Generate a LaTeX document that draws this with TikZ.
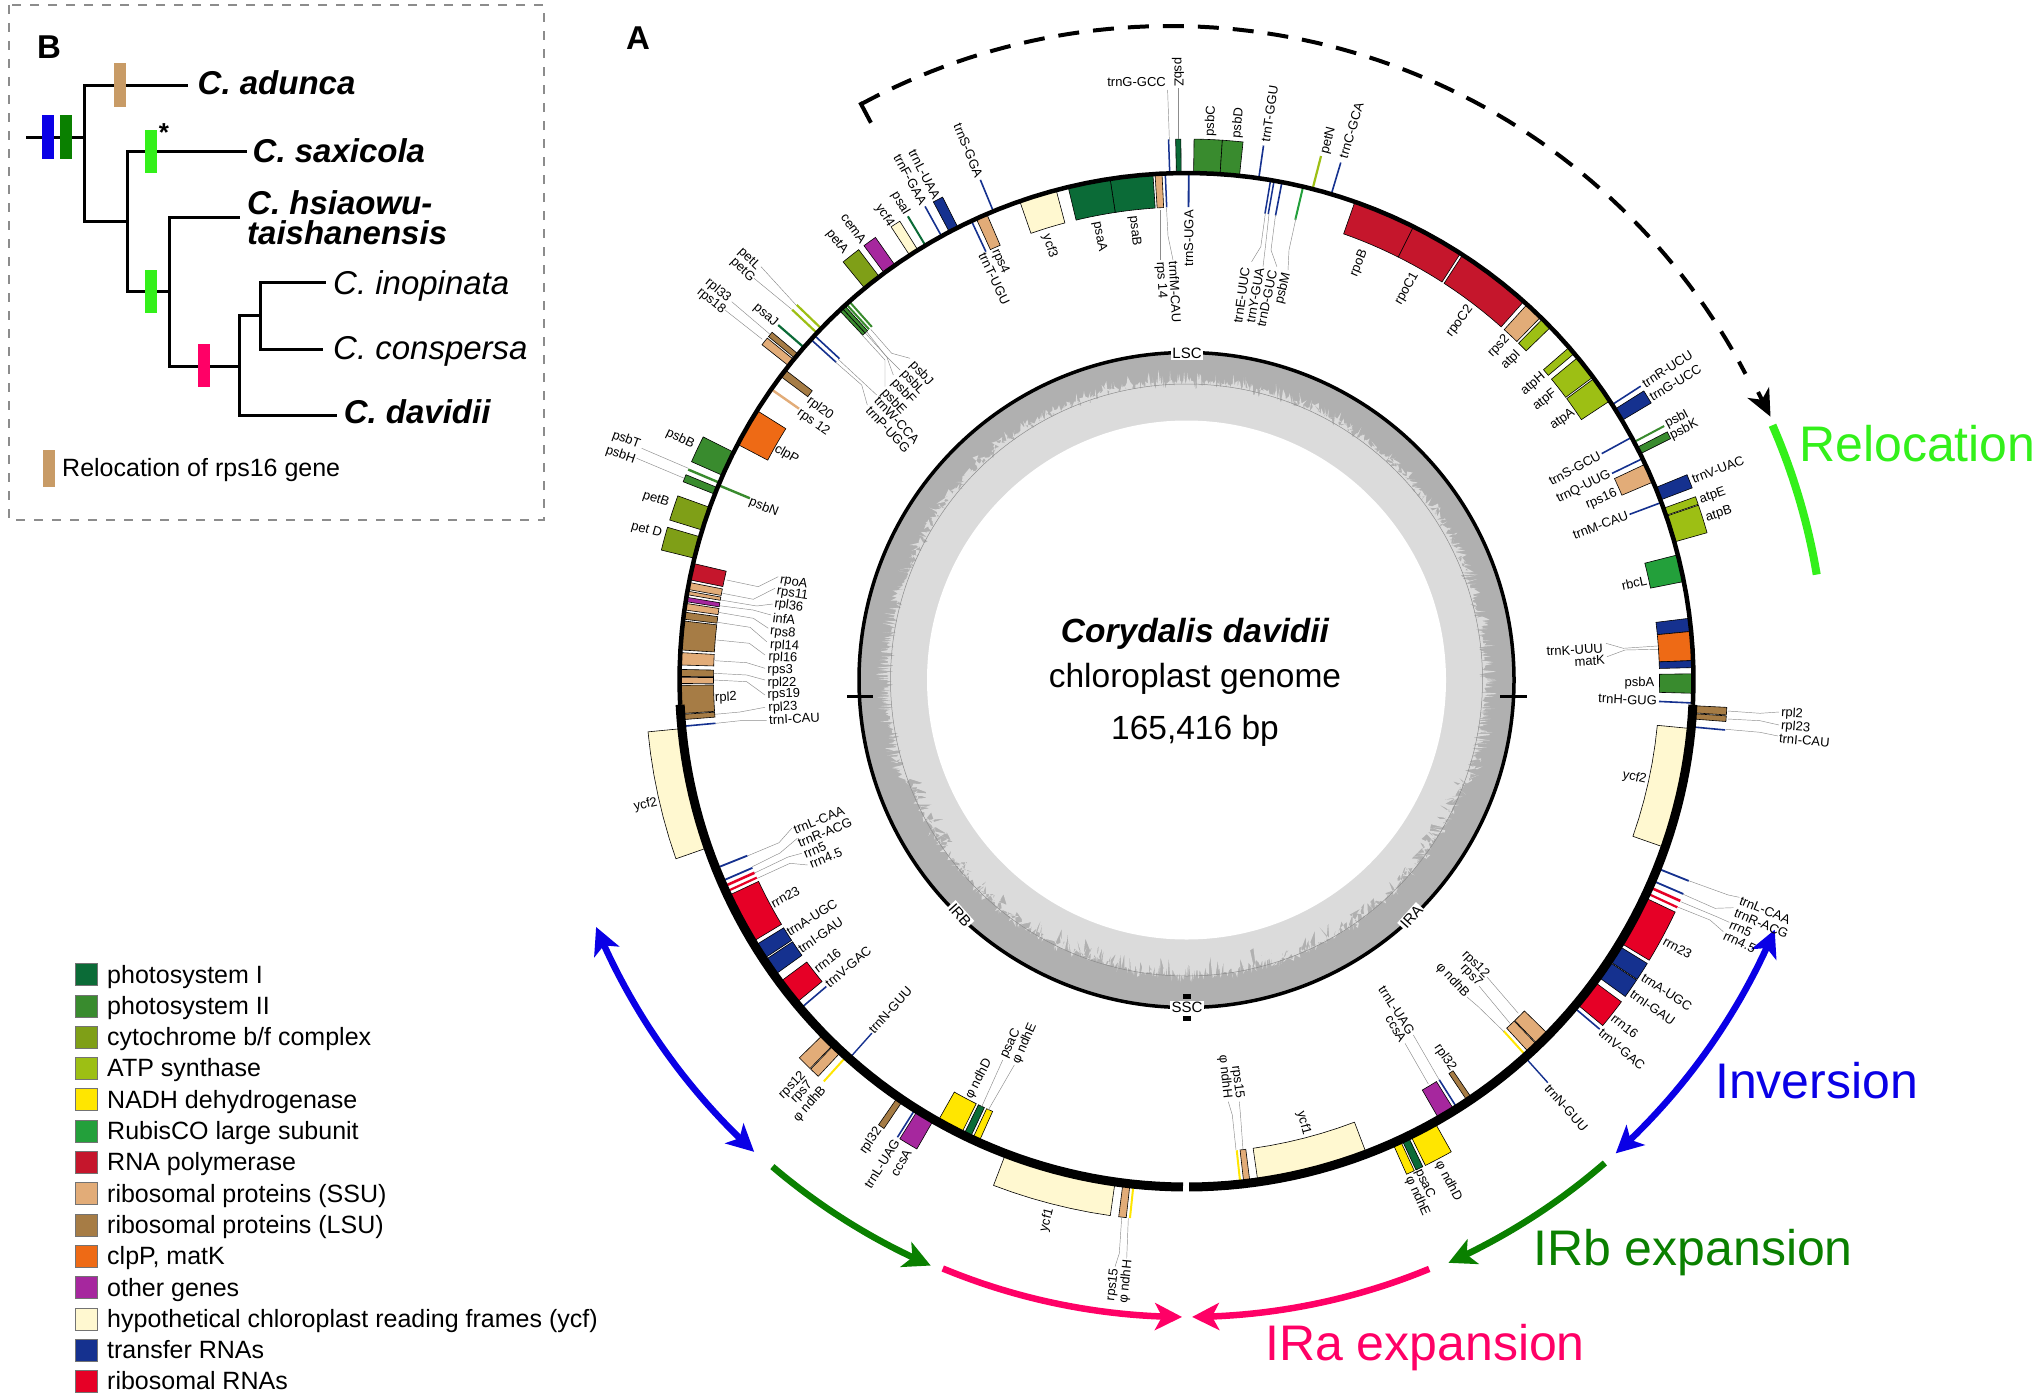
\documentclass[tikz,border=0pt]{standalone}
\usepackage{fontspec}
\setmainfont{Liberation Sans}
\usetikzlibrary{arrows.meta}
\definecolor{cPSI}{HTML}{0B6B37}
\definecolor{cPSII}{HTML}{398B2E}
\definecolor{cCYT}{HTML}{7F9F17}
\definecolor{cATP}{HTML}{9DBF14}
\definecolor{cNAD}{HTML}{FFE600}
\definecolor{cRUB}{HTML}{23A03B}
\definecolor{cRNA}{HTML}{C5162C}
\definecolor{cSSU}{HTML}{E2AC78}
\definecolor{cLSU}{HTML}{A67C45}
\definecolor{cCLP}{HTML}{EE6A15}
\definecolor{cOTH}{HTML}{A6279E}
\definecolor{cYCF}{HTML}{FFF8D0}
\definecolor{cTRN}{HTML}{15318F}
\definecolor{cRRN}{HTML}{E60026}
\definecolor{cRelo}{HTML}{33F01A}
\definecolor{cInv}{HTML}{0A00E6}
\definecolor{cIRb}{HTML}{0A8000}
\definecolor{cIRa}{HTML}{FF0066}
\definecolor{cTan}{HTML}{C89B66}
\tikzset{
  gene/.style={draw=black,line width=.6pt},
  glab/.style={inner sep=0pt,font=\fontsize{13}{13}\selectfont},
  leader/.style={draw=black!45,line width=.45pt},
  branch/.style={line width=3pt,line cap=rect},
  species/.style={inner sep=0pt,anchor=base west,font=\fontsize{33}{33}\selectfont\bfseries\itshape},
  species plain/.style={inner sep=0pt,anchor=base west,font=\fontsize{33}{33}\selectfont\itshape},
  legtext/.style={inner sep=0pt,anchor=base west,font=\fontsize{25}{25}\selectfont},
  bigword/.style={inner sep=0pt,anchor=base west,font=\fontsize{50}{50}\selectfont},
  centre/.style={inner sep=0pt,anchor=base,font=\fontsize{33.5}{33.5}\selectfont},
  regionlab/.style={fill=white,inner sep=1.5pt,font=\fontsize{15}{15}\selectfont},
  arcline/.style={line width=6.5pt},
  bigtip/.style={-{Stealth[length=27pt,width=27pt,inset=7pt]}},
  bothtip/.style={{Stealth[length=27pt,width=27pt,inset=7pt]}-{Stealth[length=27pt,width=27pt,inset=7pt]}}
}
\newcommand\GeneBox[5]{\filldraw[gene,fill=#5] plot[domain=#1:#2,samples=7] ({\x-90}:#4) -- plot[domain=#2:#1,samples=7] ({\x-90}:#3) -- cycle;}
\newcommand\GeneBar[5]{\draw[#4,line width=#5pt] ({#1-90}:#2) -- ({#1-90}:#3);}
\newcommand\LabOut[3]{\pgfmathtruncatemacro\myside{#1<180?1:0}\ifnum\myside=1 \node[glab,anchor=west,rotate=90-#1] at ({#1-90}:#2) {#3};\else \node[glab,anchor=east,rotate=270-#1] at ({#1-90}:#2) {#3};\fi}
\newcommand\LabIn[3]{\pgfmathtruncatemacro\myside{#1<180?1:0}\ifnum\myside=1 \node[glab,anchor=east,rotate=90-#1] at ({#1-90}:#2) {#3};\else \node[glab,anchor=west,rotate=270-#1] at ({#1-90}:#2) {#3};\fi}
\newcommand\LabAt[5]{\node[glab,anchor=#4,rotate=#3] at (#1,#2) {#5};}
\newcommand\LegRow[3]{\filldraw[fill=#2,draw=black!55,line width=.5pt] (75,#1-11) rectangle (97,#1+11); \node[legtext] at (107,#1+8.5) {#3};}
\begin{document}
\begin{tikzpicture}[x=1pt,y=-1pt]
\useasboundingbox (0,0) rectangle (2037,1397);
\fill[white] (0,0) rectangle (2037,1397);
% ---------- circular map, polar about the centre ----------
\begin{scope}[shift={(1186.5,680)}]
% GC content disc
\fill[black!31] (0,0) circle[radius=327];
\pgfmathsetseed{7}
\fill[black!14] plot[domain=0:360,samples=2401] ({\x-90}:{(\x>110 && \x<250) ? (295+8*rnd^3-20*rnd^4) : (299+13*rnd^4-8*rnd^3)}) -- cycle;
\draw[black!45,line width=.5pt] (0,0) circle[radius=296];
\fill[white] (0,0) circle[radius=259.5];
\draw[line width=3.5pt] (0,0) circle[radius=327.5];
% outer-side genes
\GeneBar{358.1}{507}{541}{cTRN}{1.5}
\GeneBox{358.85}{359.4}{507}{541}{cPSI}
\GeneBox{0.8}{3.8}{507}{541}{cPSII}
\GeneBox{3.8}{6}{507}{541}{cPSII}
\GeneBar{8.2}{507}{540}{cTRN}{1.6}
\GeneBar{14.4}{507}{541}{cATP}{2.2}
\GeneBar{16.6}{507}{540}{cTRN}{1.6}
\GeneBar{57.1}{507}{541}{cTRN}{1.6}
\GeneBox{57.7}{59.2}{507}{541}{cTRN}
\GeneBar{62}{507}{541}{cPSII}{2}
\GeneBox{62.7}{63.5}{507}{541}{cPSII}
\GeneBox{67.7}{69.2}{507}{541}{cTRN}
\GeneBox{70.2}{71.05}{507}{541}{cATP}
\GeneBox{71.15}{74.2}{507}{541}{cATP}
\GeneBox{92.9}{93.7}{507}{541}{cLSU}
\GeneBox{93.8}{94.4}{507}{541}{cLSU}
\GeneBar{95.3}{507}{541}{cTRN}{1.6}
\GeneBar{111.8}{507}{541}{cTRN}{1.8}
\GeneBar{113.3}{507}{541}{cTRN}{1.8}
\GeneBar{114.1}{507}{541}{cRRN}{2.6}
\GeneBar{114.85}{507}{541}{cRRN}{2.2}
\GeneBox{115.4}{121.2}{507}{541}{cRRN}
\GeneBox{121.6}{123.6}{507}{541}{cTRN}
\GeneBox{123.7}{125.8}{507}{541}{cTRN}
\GeneBox{126.5}{129.7}{507}{541}{cRRN}
\GeneBar{130.2}{507}{541}{cTRN}{1.6}
\GeneBar{138.1}{507}{541}{cTRN}{1.4}
\GeneBox{150.7}{153.8}{507}{541}{cNAD}
\GeneBox{154.1}{154.9}{507}{541}{cPSI}
\GeneBox{155.1}{156}{507}{541}{cNAD}
\GeneBox{188.1}{200.9}{507}{541}{cYCF}
\GeneBox{186.4}{187.2}{507}{541}{cSSU}
\GeneBar{186}{507}{541}{cNAD}{2}
\GeneBox{209.9}{212}{507}{541}{cOTH}
\GeneBar{212.3}{507}{541}{cTRN}{1.6}
\GeneBox{214}{214.7}{507}{541}{cLSU}
\GeneBar{222.1}{507}{541}{cNAD}{2}
\GeneBox{222.9}{224}{507}{541}{cSSU}
\GeneBox{224.1}{225.7}{507}{541}{cSSU}
\GeneBox{250.7}{264.5}{507}{541}{cYCF}
\GeneBox{283.9}{286.4}{507}{541}{cCYT}
\GeneBox{287.2}{289.9}{507}{541}{cCYT}
\GeneBox{291.5}{292.3}{507}{541}{cPSII}
\GeneBar{292.9}{507}{541}{cPSII}{2.4}
\GeneBox{293.8}{296.7}{507}{541}{cPSII}
\GeneBox{308.3}{309.2}{507}{541}{cSSU}
\GeneBox{309.4}{310}{507}{541}{cLSU}
\GeneBar{311}{507}{541}{cPSI}{2.2}
\GeneBar{313.2}{507}{541}{cATP}{2.2}
\GeneBar{313.9}{507}{541}{cATP}{2.2}
\GeneBox{320.6}{322.7}{507}{541}{cCYT}
\GeneBox{323.4}{324.9}{507}{541}{cOTH}
\GeneBox{326.9}{328}{507}{541}{cYCF}
\GeneBar{329}{507}{541}{cPSI}{2}
\GeneBar{331.1}{507}{541}{cTRN}{1.6}
\GeneBox{332.1}{333.2}{507}{541}{cTRN}
\GeneBar{337.6}{507}{541}{cTRN}{1.6}
% inner-side genes
\GeneBar{0.25}{473}{507}{cTRN}{1.8}
\GeneBox{356.44}{357.23}{473}{507}{cSSU}
\GeneBar{357.6}{473}{507}{cTRN}{1.5}
\GeneBox{351.33}{356.2}{473}{507}{cPSI}
\GeneBox{346.5}{351.33}{473}{507}{cPSI}
\GeneBox{340.8}{345.1}{473}{507}{cYCF}
\GeneBar{9.55}{473}{507}{cTRN}{1.5}
\GeneBar{9.95}{473}{507}{cTRN}{1.5}
\GeneBar{10.85}{473}{507}{cTRN}{1.6}
\GeneBar{13.3}{473}{507}{cRUB}{2}
\GeneBox{19.4}{26.6}{473}{507}{cRNA}
\GeneBox{26.6}{32.7}{473}{507}{cRNA}
\GeneBox{33}{41.7}{473}{507}{cRNA}
\GeneBox{42.2}{44.3}{473}{507}{cSSU}
\GeneBox{44.6}{45.9}{473}{507}{cATP}
\GeneBox{49}{49.9}{473}{507}{cATP}
\GeneBox{50.5}{53.3}{473}{507}{cATP}
\GeneBox{53.5}{56.6}{473}{507}{cATP}
\GeneBar{61.4}{473}{507}{cTRN}{1.6}
\GeneBar{64.1}{473}{507}{cTRN}{1.6}
\GeneBox{64.8}{67}{473}{507}{cSSU}
\GeneBar{69.5}{473}{507}{cTRN}{1.6}
\GeneBox{75.7}{78.8}{473}{507}{cRUB}
\GeneBox{83}{84.5}{473}{507}{cTRN}
\GeneBox{84.5}{87.8}{473}{507}{cCLP}
\GeneBox{87.8}{88.6}{473}{507}{cTRN}
\GeneBox{89.3}{91.5}{473}{507}{cPSII}
\GeneBar{92.6}{473}{507}{cTRN}{1.6}
\GeneBox{95.5}{109.3}{473}{507}{cYCF}
\GeneBox{134.4}{136.05}{473}{507}{cSSU}
\GeneBox{136.15}{137.4}{473}{507}{cSSU}
\GeneBar{137.9}{473}{507}{cNAD}{2}
\GeneBox{145.7}{146.3}{473}{507}{cLSU}
\GeneBar{147.7}{473}{507}{cTRN}{1.6}
\GeneBox{148.1}{150.1}{473}{507}{cOTH}
\GeneBox{159.2}{171.9}{473}{507}{cYCF}
\GeneBox{172.8}{173.5}{473}{507}{cSSU}
\GeneBar{173.9}{473}{507}{cNAD}{2}
\GeneBox{204.2}{205}{473}{507}{cNAD}
\GeneBox{205.3}{206.1}{473}{507}{cPSI}
\GeneBox{206.4}{209.4}{473}{507}{cNAD}
\GeneBar{221.7}{473}{507}{cTRN}{1.4}
\GeneBar{229.6}{473}{507}{cTRN}{1.6}
\GeneBox{230.4}{233.4}{473}{507}{cRRN}
\GeneBox{234.4}{236.4}{473}{507}{cTRN}
\GeneBox{236.6}{238.4}{473}{507}{cTRN}
\GeneBox{238.9}{244.8}{473}{507}{cRRN}
\GeneBar{245.3}{473}{507}{cRRN}{2.2}
\GeneBar{245.95}{473}{507}{cRRN}{2.6}
\GeneBar{246.6}{473}{507}{cTRN}{1.8}
\GeneBar{248.2}{473}{507}{cTRN}{1.8}
\GeneBar{264.75}{473}{507}{cTRN}{1.6}
\GeneBox{265.5}{266.1}{473}{507}{cLSU}
\GeneBox{266.2}{269.4}{473}{507}{cLSU}
\GeneBox{269.6}{270.3}{473}{507}{cSSU}
\GeneBox{270.4}{271.2}{473}{507}{cLSU}
\GeneBox{271.7}{273.1}{473}{507}{cSSU}
\GeneBox{273.4}{276.7}{473}{507}{cLSU}
\GeneBox{276.9}{277.7}{473}{507}{cLSU}
\GeneBox{277.95}{278.7}{473}{507}{cSSU}
\GeneBox{278.9}{279.4}{473}{507}{cOTH}
\GeneBox{279.7}{280.1}{473}{507}{cSSU}
\GeneBox{280.3}{281.1}{473}{507}{cSSU}
\GeneBox{281.4}{283.3}{473}{507}{cRNA}
\GeneBar{292.6}{473}{507}{cPSII}{2.4}
\GeneBox{297.7}{302.1}{473}{507}{cCLP}
\GeneBar{305}{473}{507}{cSSU}{2.4}
\GeneBox{306.8}{307.7}{473}{507}{cLSU}
\GeneBar{312.2}{473}{507}{cTRN}{1.6}
\GeneBar{312.8}{473}{507}{cTRN}{1.6}
\GeneBox{316.8}{317.2}{473}{507}{cPSII}
\GeneBox{317.2}{317.6}{473}{507}{cPSII}
\GeneBar{317.85}{473}{507}{cPSII}{2}
\GeneBar{318.3}{473}{507}{cPSII}{2}
\GeneBar{334.9}{473}{507}{cTRN}{1.6}
\GeneBox{335.5}{336.8}{473}{507}{cSSU}
% main ring
\draw[line width=4.5pt] plot[domain=267.2:452.8,samples=90] ({\x-90}:507);
\draw[line width=9pt] plot[domain=92.8:179.7,samples=60] ({\x-90}:507);
\draw[line width=9pt] plot[domain=180.4:267.2,samples=60] ({\x-90}:507);
% labels with no leader, outside
\LabOut{2.5}{544}{psbC}
\LabOut{5.3}{544}{psbD}
\LabOut{8.35}{544}{trnT-GGU}
\LabOut{14.75}{544}{petN}
\LabOut{16.7}{545}{trnC-GCA}
\LabOut{57.1}{544}{trnR-UCU}
\LabOut{58.7}{543}{trnG-UCC}
\LabOut{62}{543}{psbI}
\LabOut{63.3}{542}{psbK}
\LabOut{68.4}{544}{trnV-UAC}
\LabOut{70.7}{544}{atpE}
\LabOut{72.7}{544}{atpB}
\LabOut{118.6}{544}{rrn23}
\LabOut{123}{544}{trnA-UGC}
\LabOut{125.1}{544}{trnI-GAU}
\LabOut{128.3}{543}{rrn16}
\LabOut{130.3}{543}{trnV-GAC}
\LabOut{138.4}{543}{trnN-GUU}
\LabOut{152.4}{543.5}{φ ndhD}
\LabOut{154.7}{542}{psaC}
\LabOut{155.9}{544}{φ ndhE}
\LabOut{194.5}{545.6}{ycf1}
\LabOut{210.6}{546.6}{ccsA}
\LabOut{212.2}{544}{trnL-UAG}
\LabOut{214.4}{544}{rpl32}
\LabOut{224.2}{549}{rps12}
\LabOut{223}{551}{rps7}
\LabOut{221.6}{546}{φ ndhB}
\LabOut{257}{543}{ycf2}
\LabOut{285.5}{544.7}{pet D}
\LabOut{288.8}{547}{petB}
\LabOut{295.5}{546}{psbB}
\LabOut{310.9}{543}{psaJ}
\LabOut{321.4}{547}{petA}
\LabOut{323.6}{544}{cemA}
\LabOut{327}{542}{ycf4}
\LabOut{329}{543}{psaI}
\LabOut{331.1}{544}{trnF-GAA}
\LabOut{332.6}{542.6}{trnL-UAA}
\LabOut{337.6}{544}{trnS-GGA}
% labels with no leader, inside
\LabIn{0.3}{470}{trnS-UGA}
\LabIn{342.5}{467}{ycf3}
\LabIn{348.9}{467}{psaA}
\LabIn{353.4}{467}{psaB}
\LabIn{22.5}{465}{rpoB}
\LabIn{29.4}{467}{rpoC1}
\LabIn{37.3}{469}{rpoC2}
\LabIn{43.1}{470}{rps2}
\LabIn{45.4}{467}{atpI}
\LabIn{49.5}{470}{atpH}
\LabIn{52}{468}{atpF}
\LabIn{55.3}{471}{atpA}
\LabIn{61.4}{471}{trnS-GCU}
\LabIn{64.1}{471}{trnQ-UUG}
\LabIn{66.5}{469}{rps16}
\LabIn{69.5}{471}{trnM-CAU}
\LabIn{77.8}{471}{rbcL}
\LabIn{90.4}{468}{psbA}
\LabIn{92.55}{471}{trnH-GUG}
\LabIn{102.3}{470.7}{ycf2}
\LabIn{145.6}{472.5}{rpl32}
\LabIn{165.2}{470.6}{ycf1}
\LabIn{207.5}{471.6}{φ ndhD}
\LabIn{221.9}{472.7}{trnN-GUU}
\LabIn{229.7}{471.5}{trnV-GAC}
\LabIn{232}{471}{rrn16}
\LabIn{235.1}{472}{trnI-GAU}
\LabIn{237.6}{472.5}{trnA-UGC}
\LabIn{241.6}{471.5}{rrn23}
\LabIn{267.8}{472}{rpl2}
\LabIn{292.2}{472}{psbN}
\LabIn{299.4}{472}{clpP}
\LabIn{304.6}{471.6}{rps 12}
\LabIn{306.5}{470.6}{rpl20}
\LabIn{334.4}{473}{trnT-UGU}
\LabIn{336}{471}{rps4}
% coloured arcs
\draw[cRelo,line width=8pt] plot[domain=66.5:80.5,samples=20] ({\x-90}:639);
\draw[cInv,arcline,bothtip] plot[domain=113:137.8,samples=30] ({\x-90}:639);
\draw[cIRb,arcline,bigtip] plot[domain=139.1:155.8,samples=25] ({\x-90}:639);
\draw[cIRa,arcline,bigtip] plot[domain=157.6:179.5,samples=25] ({\x-90}:637);
\draw[cIRa,arcline,bigtip] plot[domain=202.5:180.4,samples=25] ({\x-90}:637);
\draw[cIRb,arcline,bigtip] plot[domain=220.4:203.6,samples=25] ({\x-90}:639);
\draw[cInv,arcline,bothtip] plot[domain=247.3:222.5,samples=30] ({\x-90}:640);
\end{scope}
% dashed relocation arc
\begin{scope}[shift={(1170,676)}]
\draw[line width=4pt,dash pattern=on 21pt off 14pt] plot[domain=331.6:422.3,samples=80] ({\x-90}:650);
\end{scope}
\draw[line width=4pt,line cap=rect] (870,121) -- (861,104);
\draw[line width=4pt,-{Stealth[length=27pt,width=24pt,inset=8pt]}] (1758,392) -- (1770.5,416.7);
% inner ring ticks and region labels
\draw[line width=3pt] (847,696) -- (873,696);
\draw[line width=3pt] (1500,696) -- (1527,696);
\node[regionlab] at (1187,353.5) {LSC};
\node[regionlab] at (1187,1007.5) {SSC};
\node[regionlab,rotate=48] at (1411.5,917) {IRA};
\node[regionlab,rotate=-48] at (960,915) {IRB};
\fill (1183,994) rectangle (1190.5,999);
\fill (1183,1015.5) rectangle (1190.5,1020.5);
% centre text
\node[centre] at (1195,642) {\bfseries\itshape Corydalis davidii};
\node[centre] at (1195,687) {chloroplast genome};
\node[centre] at (1195,739) {165,416 bp};
% leaders, top
\draw[leader] (1169.4,141) -- (1167.6,90);
\draw[leader] (1178,139) -- (1178,88);
\draw[leader] (1160,210) -- (1160,260);
\draw[leader] (1166.5,208) -- (1168,236) -- (1173,260);
\draw[leader] (1265.4,213) -- (1260.8,246.7) -- (1251.6,261.7);
\draw[leader] (1269,214) -- (1265.4,246.7) -- (1263,266.7);
\draw[leader] (1275.5,215) -- (1271,250) -- (1276.9,266.7);
\draw[leader] (1296,218) -- (1289,250) -- (1288,270);
\LabAt{1166}{82}{0}{east}{trnG-GCC}
\LabAt{1178}{87}{-90}{east}{psbZ}
\LabAt{1160}{262}{-87}{west}{rps 14}
\LabAt{1173.5}{261}{-87}{west}{trnfM-CAU}
\LabAt{1245.6}{267}{82}{east}{trnE-UUC}
\LabAt{1260}{268}{80}{east}{trnY-GUA}
\LabAt{1273}{270}{78}{east}{trnD-GUC}
\LabAt{1287}{272.7}{76}{east}{psbM}
% leaders, right
\draw[leader] (1657.5,646) -- (1623.3,648.3) -- (1606,643.3);
\draw[leader] (1658,649.3) -- (1625,650) -- (1607,656.7);
\LabAt{1603}{648.5}{3}{east}{trnK-UUU}
\LabAt{1605}{660}{3}{east}{matK}
\draw[leader] (1727.7,711) -- (1760,713.3) -- (1779,712);
\draw[leader] (1727.7,719) -- (1760,720.7) -- (1779,725);
\draw[leader] (1726,729.3) -- (1760,732.3) -- (1778,736);
\LabAt{1781}{713.3}{-3}{west}{rpl2}
\LabAt{1781}{726}{-5}{west}{rpl23}
\LabAt{1779}{738.3}{-5}{west}{trnI-CAU}
\draw[leader] (1688.7,880.7) -- (1728.3,895) -- (1739.3,897.3);
\draw[leader] (1683.3,894.3) -- (1715,908.3) -- (1733.3,907.7);
\draw[leader] (1680.7,901.7) -- (1716.7,916.7) -- (1729.3,922.3);
\draw[leader] (1678.3,907.3) -- (1710,920) -- (1723.3,931.7);
\LabAt{1740}{900}{-22}{west}{trnL-CAA}
\LabAt{1735}{912.3}{-23}{west}{trnR-ACG}
\LabAt{1730}{924}{-24}{west}{rrn5}
\LabAt{1724}{935}{-25}{west}{rrn4.5}
\draw[leader] (1518.3,1013.3) -- (1487,977);
\draw[leader] (1510,1023.3) -- (1479,986);
\draw[leader] (1504,1031.7) -- (1478.3,1006.7) -- (1467,997);
\LabAt{1487}{976}{-45}{east}{rps12}
\LabAt{1480}{985}{-46}{east}{rps7}
\LabAt{1467}{996}{-47}{east}{φ ndhB}
% leaders, bottom
\draw[leader] (1439.3,1080) -- (1413.3,1035);
\draw[leader] (1428.3,1084) -- (1405,1043.3);
\LabAt{1411.7}{1033.3}{-57}{east}{trnL-UAG}
\LabAt{1403.3}{1041}{-59}{east}{ccsA}
\draw[leader] (1243,1150) -- (1240.5,1115) -- (1239.3,1101.7);
\draw[leader] (1236,1150) -- (1232.3,1115) -- (1228.3,1101.7);
\LabAt{1239.3}{1098.3}{-83}{east}{rps15}
\LabAt{1227.3}{1098.3}{-84}{east}{φ ndhH}
\draw[leader] (1121.7,1217.3) -- (1119.3,1253.3) -- (1115,1266.7);
\draw[leader] (1128.3,1218.3) -- (1126.7,1258.3);
\LabAt{1115}{1268.3}{83}{east}{rps15}
\LabAt{1128.3}{1260}{84}{east}{φ ndhH}
\draw[leader] (981.7,1106.7) -- (1002.7,1060);
\draw[leader] (988.3,1110) -- (1014.3,1065);
\LabAt{1004}{1057.3}{64}{west}{psaC}
\LabAt{1016}{1063.3}{66}{west}{φ ndhE}
% leaders, left
\draw[leader] (757.3,878.3) -- (790,863.3) -- (807.7,865);
\draw[leader] (754,873.3) -- (788,857) -- (801.7,853.3);
\draw[leader] (752.3,866.7) -- (780,853) -- (797.3,838.3);
\draw[leader] (747.3,856) -- (779,842.7) -- (791.7,828.3);
\LabAt{810}{865}{23}{west}{rrn4.5}
\LabAt{804}{855}{23}{west}{rrn5}
\LabAt{798.3}{843.3}{22}{west}{trnR-ACG}
\LabAt{794}{830}{22}{west}{trnL-CAA}
\draw[leader] (726.7,580) -- (758.3,586.7) -- (778.3,576.7);
\draw[leader] (722.7,593.3) -- (753.3,599.3) -- (775,588.3);
\draw[leader] (720.7,600) -- (756.7,606) -- (772.7,604);
\draw[leader] (719.3,605.7) -- (753,610) -- (771,615);
\draw[leader] (718.3,612.3) -- (753.3,618.3) -- (768.3,628.3);
\draw[leader] (717.7,622.3) -- (750,627.3) -- (766.7,641.7);
\draw[leader] (716.7,640) -- (749.3,643.3) -- (765,655);
\draw[leader] (715,660.7) -- (746.7,662.7) -- (765,668.3);
\draw[leader] (714,673.3) -- (746.7,675) -- (765,680);
\draw[leader] (714,680) -- (746.7,681.7) -- (765,695);
\draw[leader] (715,714.3) -- (740,712) -- (765,707.3);
\draw[leader] (716,723.3) -- (740,720.7) -- (766.7,720.7);
\LabAt{780}{580}{-10}{west}{rpoA}
\LabAt{776.7}{591.7}{-9}{west}{rps11}
\LabAt{774.3}{604}{-8}{west}{rpl36}
\LabAt{772.7}{617.3}{-7}{west}{infA}
\LabAt{770}{631.7}{-6}{west}{rps8}
\LabAt{770}{645}{-4}{west}{rpl14}
\LabAt{768.3}{657.3}{-3}{west}{rpl16}
\LabAt{767.3}{670}{-1}{west}{rps3}
\LabAt{767.3}{682.7}{0}{west}{rpl22}
\LabAt{767.3}{695}{1}{west}{rps19}
\LabAt{768.3}{708.3}{3}{west}{rpl23}
\LabAt{769}{720}{3}{west}{trnI-CAU}
\draw[leader] (688.3,468.3) -- (641.7,448.3);
\draw[leader] (684.3,478.3) -- (636.7,458.3);
\LabAt{640}{445}{-20}{east}{psbT}
\LabAt{635}{460}{-19}{east}{psbH}
\draw[leader] (796,305) -- (761,266.7);
\draw[leader] (791.7,309.3) -- (754,278.3);
\LabAt{758.3}{268.3}{-44}{east}{petL}
\LabAt{752.7}{280}{-44}{east}{petG}
\draw[leader] (770,334.3) -- (731.7,301.7);
\draw[leader] (762.3,339.3) -- (725,310);
\LabAt{729.3}{300}{-40}{east}{rpl33}
\LabAt{724}{311.7}{-39}{east}{rps18}
\draw[leader] (870.7,329.3) -- (891.7,353.3) -- (910,358.3);
\draw[leader] (866.7,331.7) -- (885,355) -- (900,370);
\draw[leader] (865,332.7) -- (886.7,356.7) -- (893.3,375);
\draw[leader] (862.7,335.7) -- (885,360) -- (885,386.7);
\draw[leader] (838.3,359.3) -- (876.7,395);
\draw[leader] (835,361.7) -- (861.7,385) -- (867.3,405);
\LabAt{911.7}{363.3}{-47}{west}{psbJ}
\LabAt{902.7}{371.7}{-47}{west}{psbL}
\LabAt{893.3}{381}{-47}{west}{psbF}
\LabAt{883.3}{390.7}{-47}{west}{psbE}
\LabAt{876.7}{398.3}{-47}{west}{trnW-CCA}
\LabAt{868.3}{408.3}{-47}{west}{trnP-UGG}
% big coloured words
\node[bigword,text=cRelo] at (1799,461) {Relocation};
\node[bigword,text=cInv] at (1715,1098) {Inversion};
\node[bigword,text=cIRb] at (1533,1265) {IRb expansion};
\node[bigword,text=cIRa] at (1265,1360) {IRa expansion};
\node[inner sep=0pt,font=\fontsize{33}{33}\selectfont\bfseries] at (638,38) {A};
% ---------- panel B ----------
\draw[black!45,line width=2.5pt,dash pattern=on 9pt off 9pt] (9,5) rectangle (544,520);
\node[inner sep=0pt,font=\fontsize{33}{33}\selectfont\bfseries] at (49,47.5) {B};
\draw[branch] (27,137) -- (84,137);
\draw[branch] (84,85.2) -- (84,221.4);
\draw[branch] (84,85.2) -- (186.8,85.2);
\draw[branch] (84,221.4) -- (127,221.4);
\draw[branch] (127,151.8) -- (127,291.3);
\draw[branch] (127,151.8) -- (245.4,151.8);
\draw[branch] (127,291.3) -- (169.6,291.3);
\draw[branch] (169.6,217.3) -- (169.6,366);
\draw[branch] (169.6,217.3) -- (238.2,217.3);
\draw[branch] (169.6,366) -- (239.3,366);
\draw[branch] (239.3,315.8) -- (239.3,415.3);
\draw[branch] (239.3,315.8) -- (260,315.8);
\draw[branch] (260,282.9) -- (260,349.7);
\draw[branch] (260,282.9) -- (324.3,282.9);
\draw[branch] (260,349.7) -- (321.4,349.7);
\draw[branch] (239.3,415.3) -- (335.7,415.3);
\fill[cInv] (42,115.4) rectangle (54,158.9);
\fill[cIRb] (60,115.4) rectangle (72,158.9);
\fill[cTan] (114.3,63.5) rectangle (126,107.3);
\fill[cRelo] (144.6,129.7) rectangle (157,173.2);
\fill[cRelo] (144.6,270.3) rectangle (157,313.4);
\fill[cIRa] (198,343.6) rectangle (210,387);
\fill[cTan] (43,450) rectangle (55,487);
\node[inner sep=0pt,font=\fontsize{26}{26}\selectfont\bfseries] at (164,133) {*};
\node[species] at (197.5,95) {C. adunca};
\node[species] at (252.5,162) {C. saxicola};
\node[species] at (247,214) {C. hsiaowu-};
\node[species] at (247,244) {taishanensis};
\node[species plain] at (333,294) {C. inopinata};
\node[species plain] at (333,359.5) {C. conspersa};
\node[species] at (343.6,423.5) {C. davidii};
\node[inner sep=0pt,anchor=west,font=\fontsize{25}{25}\selectfont] at (62,470) {Relocation of rps16 gene};
% ---------- legend ----------
\LegRow{974.5}{cPSI}{photosystem I}
\LegRow{1005.8}{cPSII}{photosystem II}
\LegRow{1037.1}{cCYT}{cytochrome b/f complex}
\LegRow{1068.4}{cATP}{ATP synthase}
\LegRow{1099.7}{cNAD}{NADH dehydrogenase}
\LegRow{1131}{cRUB}{RubisCO large subunit}
\LegRow{1162.3}{cRNA}{RNA polymerase}
\LegRow{1193.6}{cSSU}{ribosomal proteins (SSU)}
\LegRow{1224.9}{cLSU}{ribosomal proteins (LSU)}
\LegRow{1256.2}{cCLP}{clpP, matK}
\LegRow{1287.5}{cOTH}{other genes}
\LegRow{1318.8}{cYCF}{hypothetical chloroplast reading frames (ycf)}
\LegRow{1350.1}{cTRN}{transfer RNAs}
\LegRow{1381.4}{cRRN}{ribosomal RNAs}
\end{tikzpicture}
\end{document}
